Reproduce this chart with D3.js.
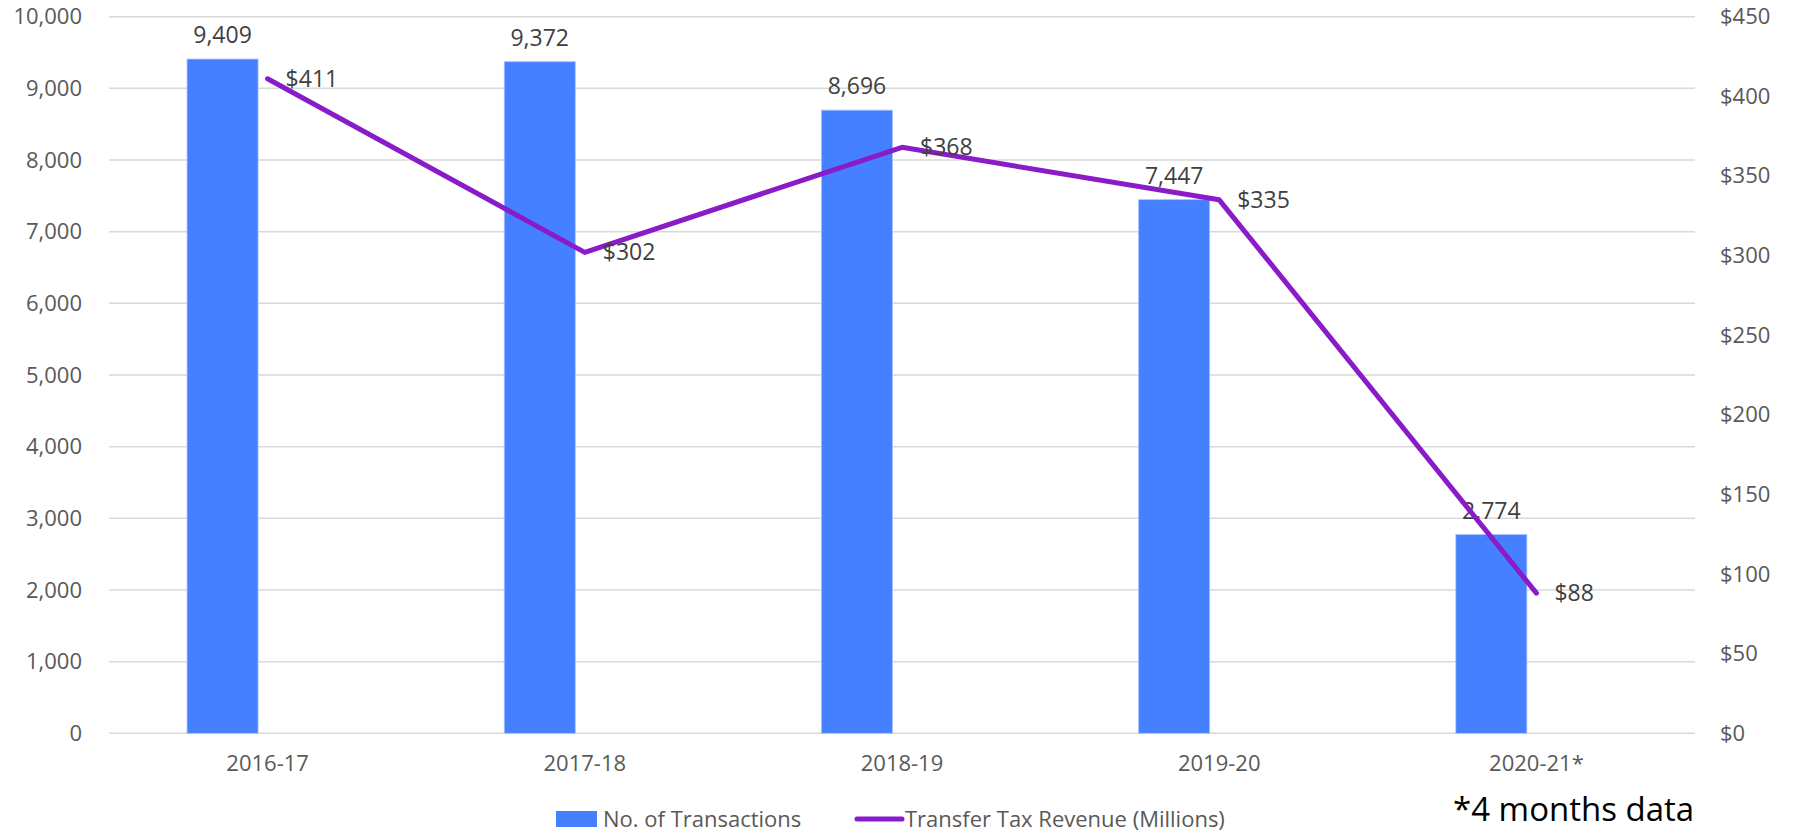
<!DOCTYPE html>
<html lang="en">
  <head>
    <meta charset="utf-8" />
    <title>Transactions and transfer tax revenue</title>
    <script src="https://cdn.jsdelivr.net/npm/d3@7"></script>
    <style type="text/css">
      body {
        margin: 0;
        background: #ffffff;
      }
      text {
        font-family: "Open Sans", "Liberation Sans", sans-serif;
      }
    </style>
  </head>
  <body>
    <div id="chart"></div>

    <script type="text/javascript">
      /*******************************************
       * data
       *******************************************/

      const years = ["2016-17", "2017-18", "2018-19", "2019-20", "2020-21*"];
      const transactions = [9409, 9372, 8696, 7447, 2774];
      const revenue = [411, 302, 368, 335, 88];

      const leftTicks = [0, 1000, 2000, 3000, 4000, 5000, 6000, 7000, 8000, 9000, 10000];
      const rightTicks = [0, 50, 100, 150, 200, 250, 300, 350, 400, 450];

      const barName = "No. of Transactions";
      const lineName = "Transfer Tax Revenue (Millions)";
      const footnote = "*4 months data";

      /********************************************
       * svg
       ********************************************/

      const width = 1798;
      const height = 835;
      const margin = { top: 16.7, right: 103, bottom: 101.7, left: 109 };

      const svg = d3
        .select("div#chart")
        .append("svg")
        .attr("width", width)
        .attr("height", height);

      /*********************************************
       * scales
       **********************************************/

      const xScale = d3
        .scaleBand()
        .domain(years)
        .range([margin.left, width - margin.right])
        .padding(0);

      const yLeft = d3
        .scaleLinear()
        .domain([0, 10000])
        .range([height - margin.bottom, margin.top]);

      const yRight = d3
        .scaleLinear()
        .domain([0, 450])
        .range([height - margin.bottom, margin.top]);

      const step = xScale.bandwidth();
      const barW = step * 0.224;
      const barShift = -step * 0.142; // bars sit left of the category centre
      const center = (d) => xScale(d) + step / 2;

      /*******************************************
       * gridlines + axes
       *******************************************/

      svg
        .append("g")
        .selectAll("line")
        .data(leftTicks)
        .enter()
        .append("line")
        .attr("x1", margin.left)
        .attr("x2", width - margin.right)
        .attr("y1", (d) => yLeft(d))
        .attr("y2", (d) => yLeft(d))
        .attr("stroke", "#d9d9d9")
        .attr("stroke-width", 1.5);

      const fmt = d3.format(",");

      const leftAxis = d3
        .axisLeft(yLeft)
        .tickValues(leftTicks)
        .tickFormat(fmt)
        .tickSize(0)
        .tickPadding(27);

      svg
        .append("g")
        .attr("transform", `translate(${margin.left},0)`)
        .call(leftAxis)
        .call((g) => g.select(".domain").remove())
        .selectAll("text")
        .attr("font-size", 22)
        .attr("font-family", null)
        .attr("fill", "#595959");

      const rightAxis = d3
        .axisRight(yRight)
        .tickValues(rightTicks)
        .tickFormat((d) => "$" + d)
        .tickSize(0)
        .tickPadding(25);

      svg
        .append("g")
        .attr("transform", `translate(${width - margin.right},0)`)
        .call(rightAxis)
        .call((g) => g.select(".domain").remove())
        .selectAll("text")
        .attr("font-size", 22)
        .attr("font-family", null)
        .attr("fill", "#595959");

      const xAxis = d3.axisBottom(xScale).tickSize(0).tickPadding(22);

      svg
        .append("g")
        .attr("transform", `translate(0,${height - margin.bottom})`)
        .call(xAxis)
        .call((g) => g.select(".domain").remove())
        .selectAll("text")
        .attr("font-size", 22)
        .attr("font-family", null)
        .attr("fill", "#595959");

      /*******************************************
       * bars
       *******************************************/

      svg
        .append("g")
        .selectAll("rect")
        .data(transactions)
        .enter()
        .append("rect")
        .attr("x", (d, i) => center(years[i]) + barShift - barW / 2)
        .attr("y", (d) => yLeft(d))
        .attr("width", barW)
        .attr("height", (d) => yLeft(0) - yLeft(d))
        .attr("fill", "#4480ff")
        .attr("stroke", "#a9c4ff")
        .attr("stroke-width", 0.8);

      svg
        .append("g")
        .selectAll("text")
        .data(transactions)
        .enter()
        .append("text")
        .attr("x", (d, i) => center(years[i]) + barShift)
        .attr("y", (d) => yLeft(d) - 16)
        .attr("text-anchor", "middle")
        .attr("font-size", 23)
        .attr("fill", "#404040")
        .text((d) => fmt(d));

      /*******************************************
       * line
       *******************************************/

      const line = d3
        .line()
        .x((d, i) => center(years[i]))
        .y((d) => yRight(d));

      svg
        .append("path")
        .datum(revenue)
        .attr("d", line)
        .attr("fill", "none")
        .attr("stroke", "#8a1bc9")
        .attr("stroke-width", 5)
        .attr("stroke-linejoin", "round")
        .attr("stroke-linecap", "round");

      svg
        .append("g")
        .selectAll("text")
        .data(revenue)
        .enter()
        .append("text")
        .attr("x", (d, i) => center(years[i]) + 18)
        .attr("y", (d) => yRight(d))
        .attr("dy", "0.35em")
        .attr("font-size", 23)
        .attr("fill", "#404040")
        .text((d) => "$" + d);

      /*******************************************
       * legend + footnote
       *******************************************/

      const legend = svg.append("g").attr("transform", "translate(0,819)");

      legend
        .append("rect")
        .attr("x", 556)
        .attr("y", -8)
        .attr("width", 41)
        .attr("height", 16)
        .attr("fill", "#4480ff");

      legend
        .append("text")
        .attr("x", 603)
        .attr("dy", "0.35em")
        .attr("font-size", 22)
        .attr("fill", "#595959")
        .text(barName);

      legend
        .append("line")
        .attr("x1", 857)
        .attr("x2", 902)
        .attr("stroke", "#8a1bc9")
        .attr("stroke-width", 5)
        .attr("stroke-linecap", "round");

      legend
        .append("text")
        .attr("x", 905)
        .attr("dy", "0.35em")
        .attr("font-size", 22)
        .attr("fill", "#595959")
        .text(lineName);

      svg
        .append("text")
        .attr("x", 1453)
        .attr("y", 821)
        .attr("font-size", 33)
        .attr("fill", "#000000")
        .text(footnote);
    </script>
  </body>
</html>
